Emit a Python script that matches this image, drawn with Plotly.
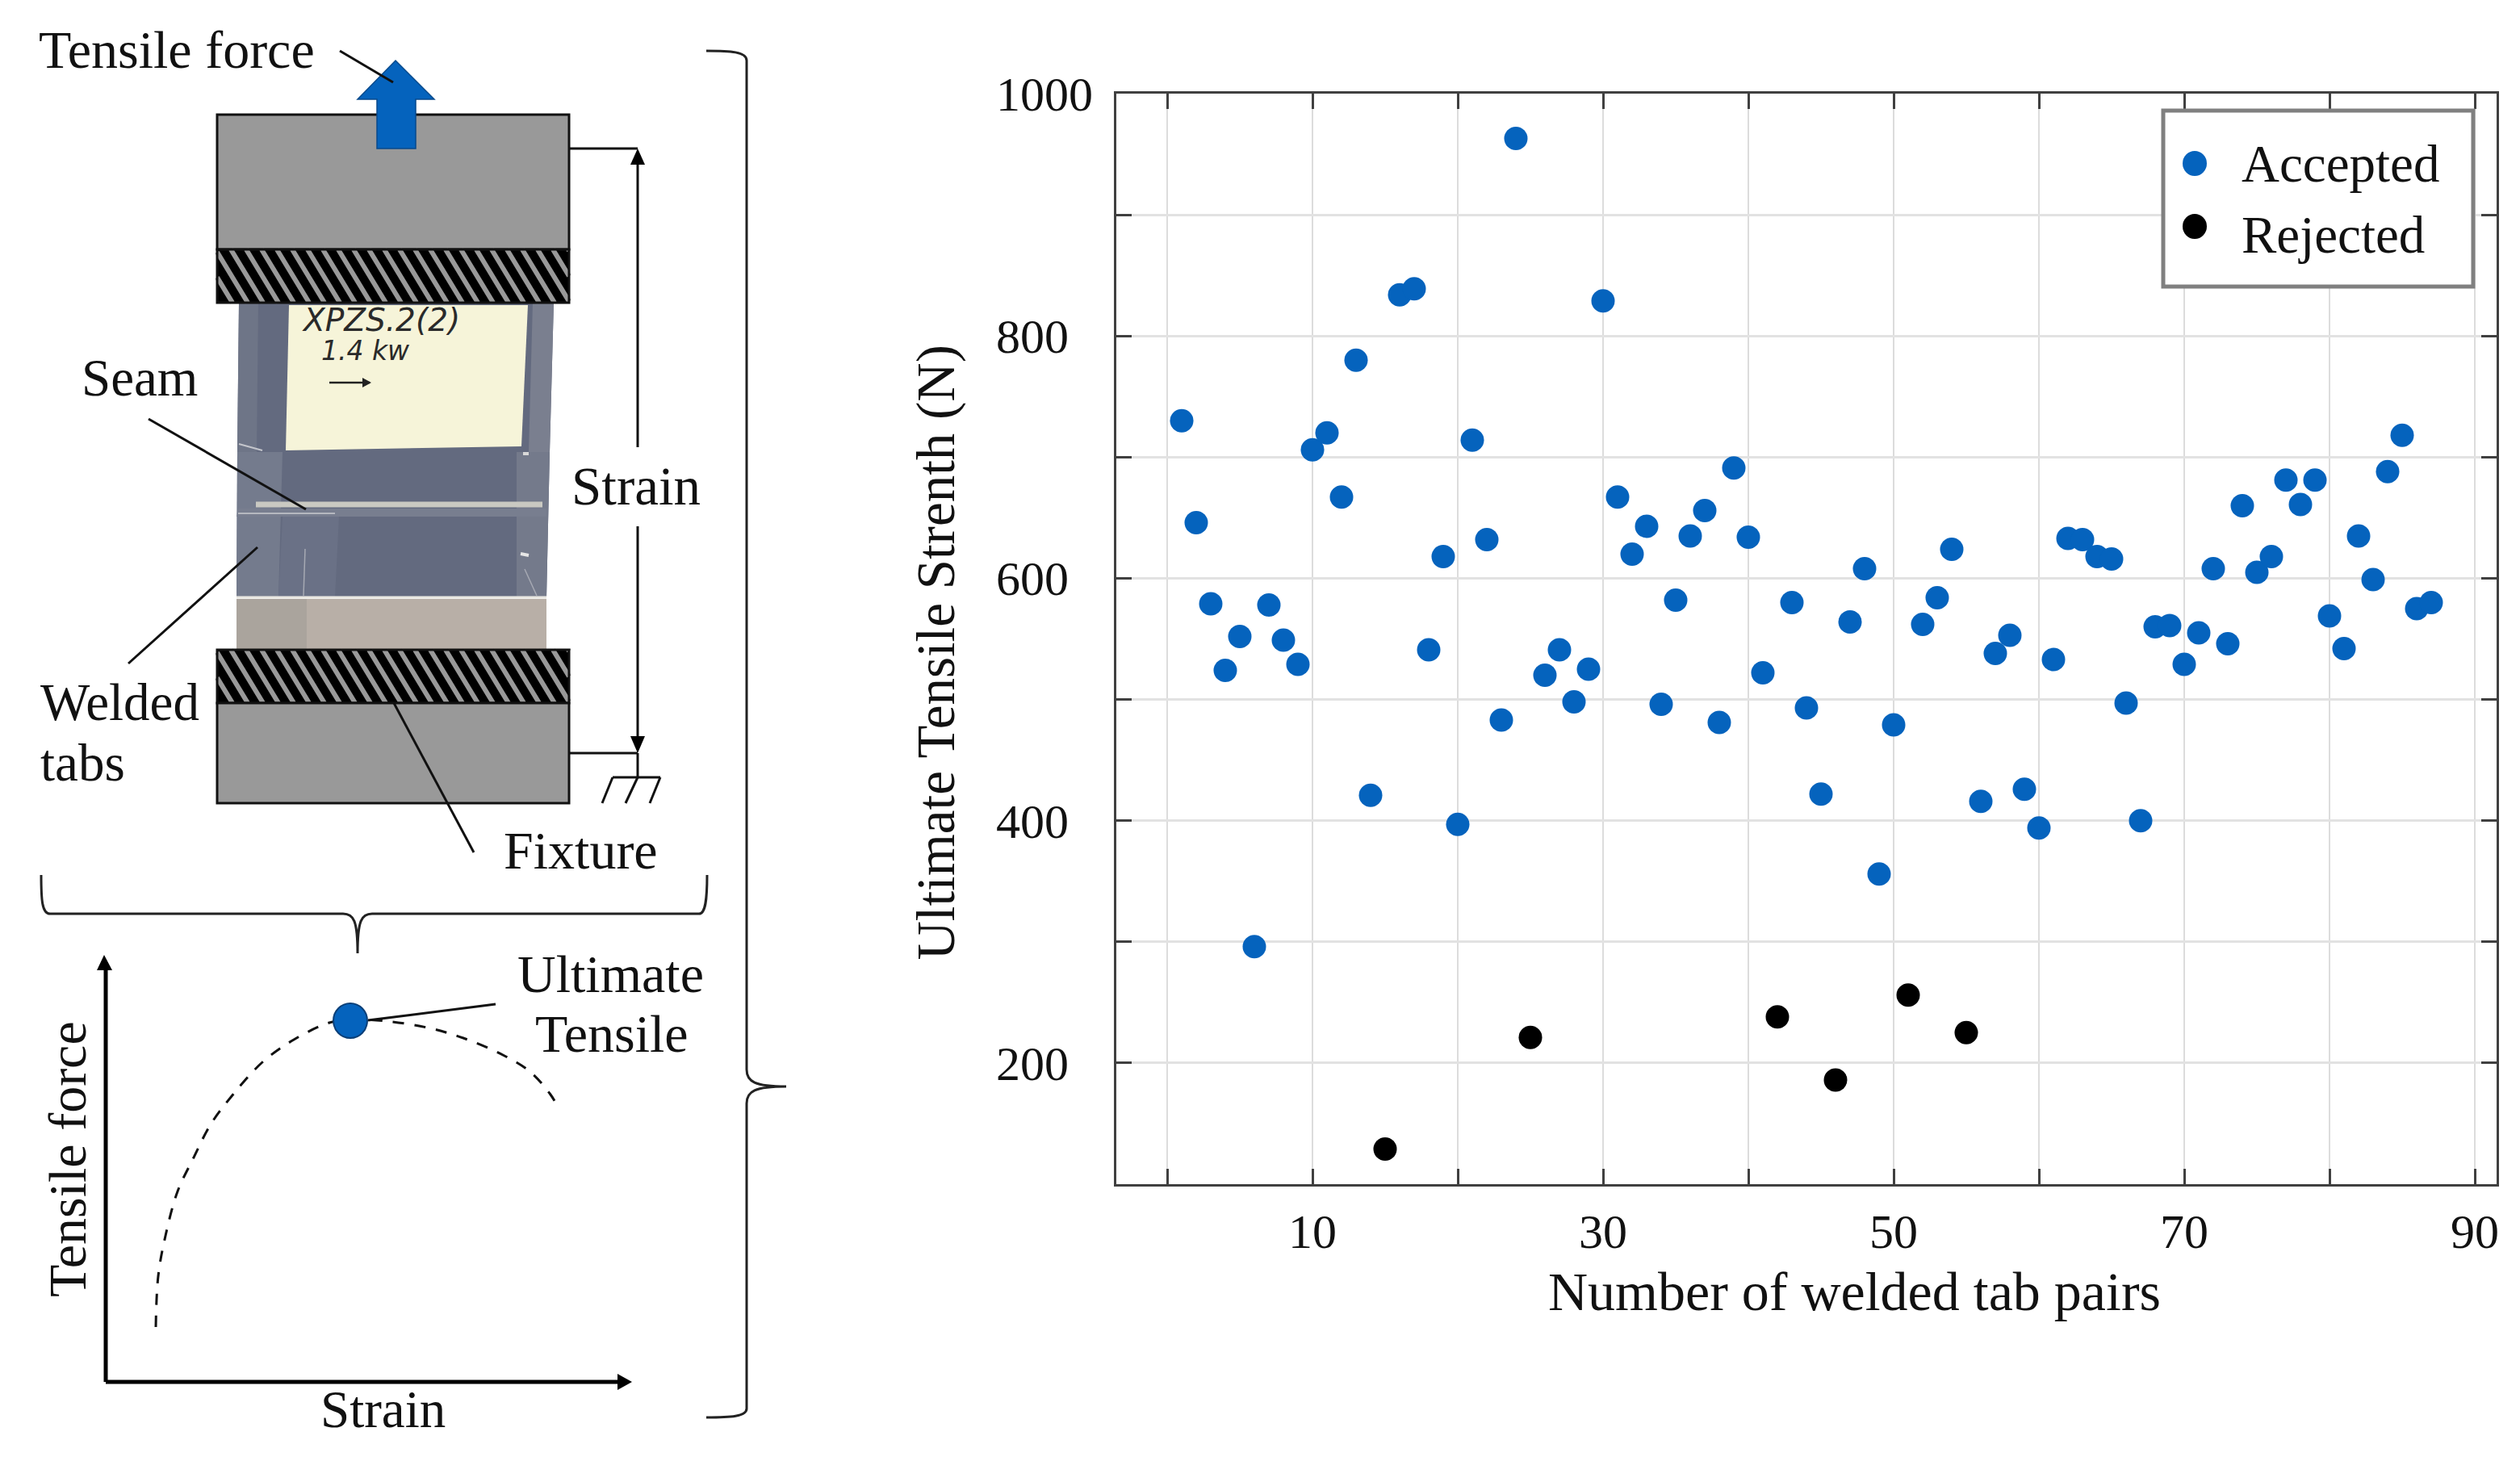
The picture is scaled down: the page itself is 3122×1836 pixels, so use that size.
import plotly.graph_objects as go

W, H = 3122, 1836

# ---------- data ----------
accepted_x = [1,2,3,4,5,6,7,8,9,10,11,12,13,14,16,17,18,19,20,21,22,23,24,26,27,28,29,30,31,32,33,34,35,36,37,38,39,40,41,43,44,45,47,48,49,50,52,53,54,56,57,58,59,60,61,62,63,64,65,66,67,68,69,70,71,72,73,74,75,76,77,78,79,80,81,82,83,84,85,86,87]
accepted_y = [730,646,579,524,552,296,578,549,529,706,720,667,780,421,834,839,541,618,397,714,632,483,963,520,541,498,525,829,667,620,643,496,582,635,656,481,691,634,522,580,493,422,564,608,356,479,562,584,624,416,538,553,426,394,533,633,632,618,616,497,400,560,561,529,555,608,546,660,605,618,681,661,681,569,542,635,599,688,718,575,580]
rejected_x = [15,25,42,46,51,55]
rejected_y = [129,221,238,186,256,225]
x_ticks = [0,10,20,30,40,50,60,70,80,90]
x_tick_labels = ["","10","","30","","50","","70","","90"]
y_ticks = [100,200,300,400,500,600,700,800,900,1000]
NB2 = "\u00a0\u00a0\u200b"
y_tick_labels = ["","200"+NB2,"","400"+NB2,"","600"+NB2,"","800"+NB2,"","1000"]
curve_x = [193,196,205,220,239,261,287,325,364,408,434,478,529,574,625,657,682,692]
curve_y = [1644,1581,1531,1476,1436,1393,1358,1316,1288,1267,1263,1265,1273,1286,1308,1328,1356,1373]

BLUE = "#0563bd"
FONT = "Liberation Serif"
INK = "#111111"
GREY = "#999999"

fig = go.Figure()
fig.add_trace(go.Scatter(x=accepted_x, y=accepted_y, mode="markers", name="Accepted", showlegend=False,
                         marker=dict(color=BLUE, size=29), xaxis="x", yaxis="y"))
fig.add_trace(go.Scatter(x=rejected_x, y=rejected_y, mode="markers", name="Rejected", showlegend=False,
                         marker=dict(color="#000000", size=29), xaxis="x", yaxis="y"))
# legend entries: the key itself is drawn at its full size in the layout below
fig.add_trace(go.Scatter(x=[None], y=[None], mode="markers", name="Accepted", hoverinfo="skip",
                         marker=dict(color="rgba(0,0,0,0)", size=2), xaxis="x", yaxis="y"))
fig.add_trace(go.Scatter(x=[None], y=[None], mode="markers", name="Rejected", hoverinfo="skip",
                         marker=dict(color="rgba(0,0,0,0)", size=2), xaxis="x", yaxis="y"))
fig.add_trace(go.Scatter(x=curve_x, y=curve_y, mode="lines", showlegend=False, hoverinfo="skip",
                         line=dict(color="#111111", width=3, dash="14px,13px", shape="spline"),
                         xaxis="x2", yaxis="y2"))

shapes = []
def S(**k):
    k.setdefault("xref", "x2"); k.setdefault("yref", "y2")
    shapes.append(k)
def line(x0, y0, x1, y1, w=3, c="#111111"):
    S(type="line", x0=x0, y0=y0, x1=x1, y1=y1, line=dict(color=c, width=w))
def poly(pts, fill, lw=0, lc="#111111"):
    d = "M" + " L".join(f"{a},{b}" for a, b in pts) + " Z"
    S(type="path", path=d, fillcolor=fill, line=dict(color=lc, width=lw))
def rect(x0, y0, x1, y1, fill, lw=0, lc="#111111"):
    S(type="rect", x0=x0, y0=y0, x1=x1, y1=y1, fillcolor=fill, line=dict(color=lc, width=lw))
def hatch(x0, y0, x1, y1):
    rect(x0, y0, x1, y1, "#000000")
    h = y1 - y0; dx = 40; step = 19
    d = []
    x = x0 - dx
    while x < x1:
        xa, ya, xb, yb = x, y0, x + dx, y1
        if xa < x0:
            ya = y0 + (x0 - xa) / dx * h; xa = x0
        if xb > x1:
            yb = y0 + (x1 - x) / dx * h; xb = x1
        if xb > xa:
            d.append(f"M{xa},{ya} L{xb},{yb}")
        x += step
    S(type="path", path=" ".join(d), line=dict(color=GREY, width=6))
    rect(x0, y0, x1, y1, "rgba(0,0,0,0)", 3)

# photograph of the specimen, approximated in flat tones
poly([(296,375),(686,375),(681,560),(677,740),(293,740),(294,560)], "#636a7f")
poly([(296,375),(320,375),(318,560),(294,560)], "#6e7587")
poly([(660,375),(686,375),(681,560),(655,560)], "#7a7f8f")
poly([(294,560),(350,560),(345,740),(293,740)], "#747b8d")
poly([(350,640),(420,640),(415,740),(345,740)], "#6a7186")
poly([(640,560),(681,560),(677,740),(640,740)], "#747a8b")
poly([(295,630),(677,630),(677,640),(293,640)], "#787e8f")
rect(293, 742, 677, 805, "#b8afa7")
rect(293, 742, 380, 805, "#aaa49d")
line(293, 740, 677, 740, 3, "#e8e6e0")
poly([(358,378),(654,378),(646,553),(354,558)], "#f6f4d9")
line(317, 625, 672, 625, 7, "#c9c9c2")
line(295, 636, 415, 636, 2, "#b5b8bf")
line(296, 550, 325, 558, 2, "#c4c6cc")
line(648, 562, 655, 562, 4, "#d8d8d8")
line(645, 686, 655, 688, 4, "#e6e6e6")
line(378, 680, 376, 738, 1.5, "#a6a9b3")
line(650, 705, 665, 738, 1.5, "#a6a9b3")
line(408, 474, 458, 474, 2.5, "#222222")
poly([(460,474),(449,468),(449,480)], "#222222")

# fixture blocks
rect(269, 142, 705, 309, GREY, 3)
hatch(269, 309, 705, 375)
hatch(269, 805, 705, 871)
rect(269, 871, 705, 995, GREY, 3)

# force arrow
poly([(490,75),(538,123),(515,123),(515,184),(467,184),(467,123),(443,123)], BLUE, 1.5, "#084a8c")

# leader lines
line(421, 63, 487, 102)
line(184, 519, 379, 631)
line(319, 678, 159, 822)
line(488, 871, 587, 1056)

# strain dimension
line(705, 184, 790, 184)
line(705, 933, 790, 933)
line(790, 190, 790, 554)
line(790, 652, 790, 925)
poly([(790,184),(781,204),(799,204)], "#000000")
poly([(790,933),(781,912),(799,912)], "#000000")
line(790, 933, 790, 963)
line(759, 963, 818, 963)
line(759, 963, 746, 995)
line(790, 963, 775, 995)
line(818, 963, 805, 995)

# braces
brace = dict(color="#222222", width=3)
S(type="path", path="M51,1084 C51,1115 52,1132 62,1132 L425,1132 C438,1132 443,1140 443,1181 "
                    "C443,1140 448,1132 461,1132 L866,1132 C874,1132 876,1115 876,1084", line=brace)
S(type="path", path="M875,63 C905,63 925,64 925,75 L925,1325 C925,1340 935,1346 974,1346 "
                    "C935,1346 925,1352 925,1367 L925,1745 C925,1755 905,1756 875,1756", line=brace)

# force-strain sketch
line(131, 1712, 131, 1195, 5, "#000000")
line(131, 1712, 770, 1712, 5, "#000000")
poly([(129,1183),(120,1202),(139,1202)], "#000000")
poly([(783,1712),(765,1702),(765,1722)], "#000000")
line(456, 1264, 614, 1244, 3)
S(type="circle", x0=413, x1=455, y0=1243, y1=1286, fillcolor=BLUE, line=dict(color="#0a3f78", width=2))

# legend frame and legend keys
rect(2680, 137, 3064, 355, "#ffffff", 5, "#808080")
S(type="circle", x0=2704, x1=2734, y0=187, y1=218, fillcolor=BLUE, line=dict(width=0))
S(type="circle", x0=2704, x1=2734, y0=265, y1=296, fillcolor="#000000", line=dict(width=0))

anns = []
def T(txt, x, y, size=65, rot=0, color=INK, font=FONT, style="normal", xanchor="left"):
    anns.append(dict(text=txt, x=x, y=y, xref="x2", yref="y2", xanchor=xanchor, yanchor="middle",
                     showarrow=False, textangle=rot,
                     font=dict(family=font, size=size, color=color, style=style)))
T("Tensile force", 46, 61, 66)
T("Seam", 99, 468, 65)
T("Strain", 706, 602, 67)
T("Welded", 48, 870, 65)
T("tabs", 48, 945, 65)
T("Fixture", 622, 1053, 66)
T("Ultimate", 639, 1206, 66)
T("Tensile", 661, 1280, 66)
T("Strain", 395, 1746, 65)
T("Tensile force", 83, 1436, 66, rot=-90, xanchor="center")
T("XPZS.2(2)", 372, 396, 39, color="#2a2a2a", font="DejaVu Sans", style="italic")
T("1.4 kw", 396, 434, 33, color="#2a2a2a", font="DejaVu Sans", style="italic")

axcommon = dict(showline=True, linecolor="#404040", linewidth=3, mirror="ticks", ticks="inside",
                ticklen=19, tickwidth=3, tickcolor="#404040", showgrid=True, zeroline=False,
                tickmode="array", tickfont=dict(family=FONT, size=60, color=INK))

fig.update_layout(
    width=W, height=H, margin=dict(l=0, r=0, t=0, b=0, pad=0, autoexpand=False),
    paper_bgcolor="#ffffff", plot_bgcolor="rgba(0,0,0,0)", shapes=shapes, annotations=anns,
    showlegend=True,
    legend=dict(x=2707/W, y=1-151/H, xanchor="left", yanchor="top", bgcolor="rgba(0,0,0,0)",
                borderwidth=0, itemwidth=60, font=dict(family=FONT, size=65, color=INK)),
    xaxis=dict(domain=[1383/W, 3093/W], range=[-3.5, 91.5], anchor="y",
               gridcolor="#dcdcdc", gridwidth=2,
               tickvals=x_ticks, ticktext=x_tick_labels, ticklabelstandoff=4,
               title=dict(text="\u200b" + "\u00a0"*7 + "Number of welded tab pairs", standoff=18,
                          font=dict(family=FONT, size=68, color=INK)), **axcommon),
    yaxis=dict(domain=[1-1467/H, 1-116/H], range=[100, 1000], anchor="x",
               gridcolor="#e2e2e2", gridwidth=3,
               tickvals=y_ticks, ticktext=y_tick_labels, ticklabelstandoff=14,
               title=dict(text="Ultimate Tensile Strenth (N)" + "\u00a0"*2 + "\u200b", standoff=30,
                          font=dict(family=FONT, size=67, color=INK)), **axcommon),
    xaxis2=dict(domain=[0, 1], range=[0, W], visible=False, anchor="y2"),
    yaxis2=dict(domain=[0, 1], range=[H, 0], visible=False, anchor="x2"),
)
fig.write_html("out.html", post_script="document.body.style.margin='0';",
               config=dict(displayModeBar=False))
